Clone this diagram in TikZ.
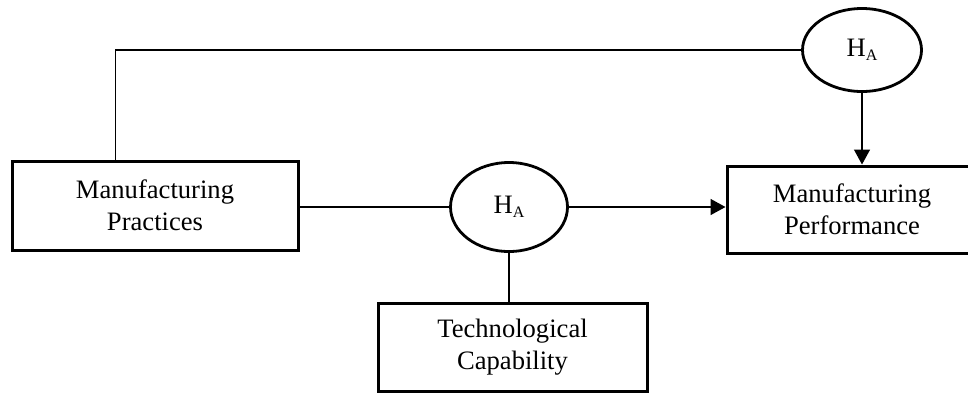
\documentclass[tikz,border=0pt]{standalone}
\usepackage{fontspec}
\setmainfont{Liberation Serif}
\usetikzlibrary{arrows.meta,shapes.geometric}
\begin{document}
\begin{tikzpicture}[x=1pt,y=-1pt,
  every node/.style={font=\fontsize{26.6}{31.7}\selectfont, align=center, inner sep=0pt},
  blockbox/.style={draw, line width=3pt, rectangle},
  hyp/.style={draw, line width=2.8pt, ellipse},
  link/.style={line width=1.5pt},
  arr/.style={line width=1.5pt, -{Triangle[length=15pt,width=16pt]}}
]
\useasboundingbox (0,0) rectangle (968,392);
\fill[white] (0,0) rectangle (968,392);

% blocks
\node[blockbox, minimum width=286pt, minimum height=89pt] (mp) at (155,205.5) {Manufacturing\\Practices};
\node[blockbox, minimum width=250pt, minimum height=87pt] (perf) at (852,209.5) {Manufacturing\\Performance};
\node[blockbox, minimum width=269pt, minimum height=88pt] (tech) at (512.5,347) {Technological\\Capability};

% hypothesis ellipses
\newcommand{\hA}{H\raisebox{-4pt}{\fontsize{16}{16}\selectfont A}}
\node[hyp, minimum width=119pt, minimum height=83pt] (ha1) at (862,50) {\hA};
\node[hyp, minimum width=117pt, minimum height=89pt] (ha2) at (509,207) {\hA};

% connectors
\draw[link] (mp.north west) ++(105,0) |- (ha1.west);
\draw[arr] (ha1.south) -- (ha1.south |- perf.north);
\draw[link] (mp.east |- ha2.west) -- (ha2.west);
\draw[arr] (ha2.east) -- (ha2.east -| perf.west);
\draw[link] (ha2.south) -- (ha2.south |- tech.north);
\end{tikzpicture}
\end{document}
